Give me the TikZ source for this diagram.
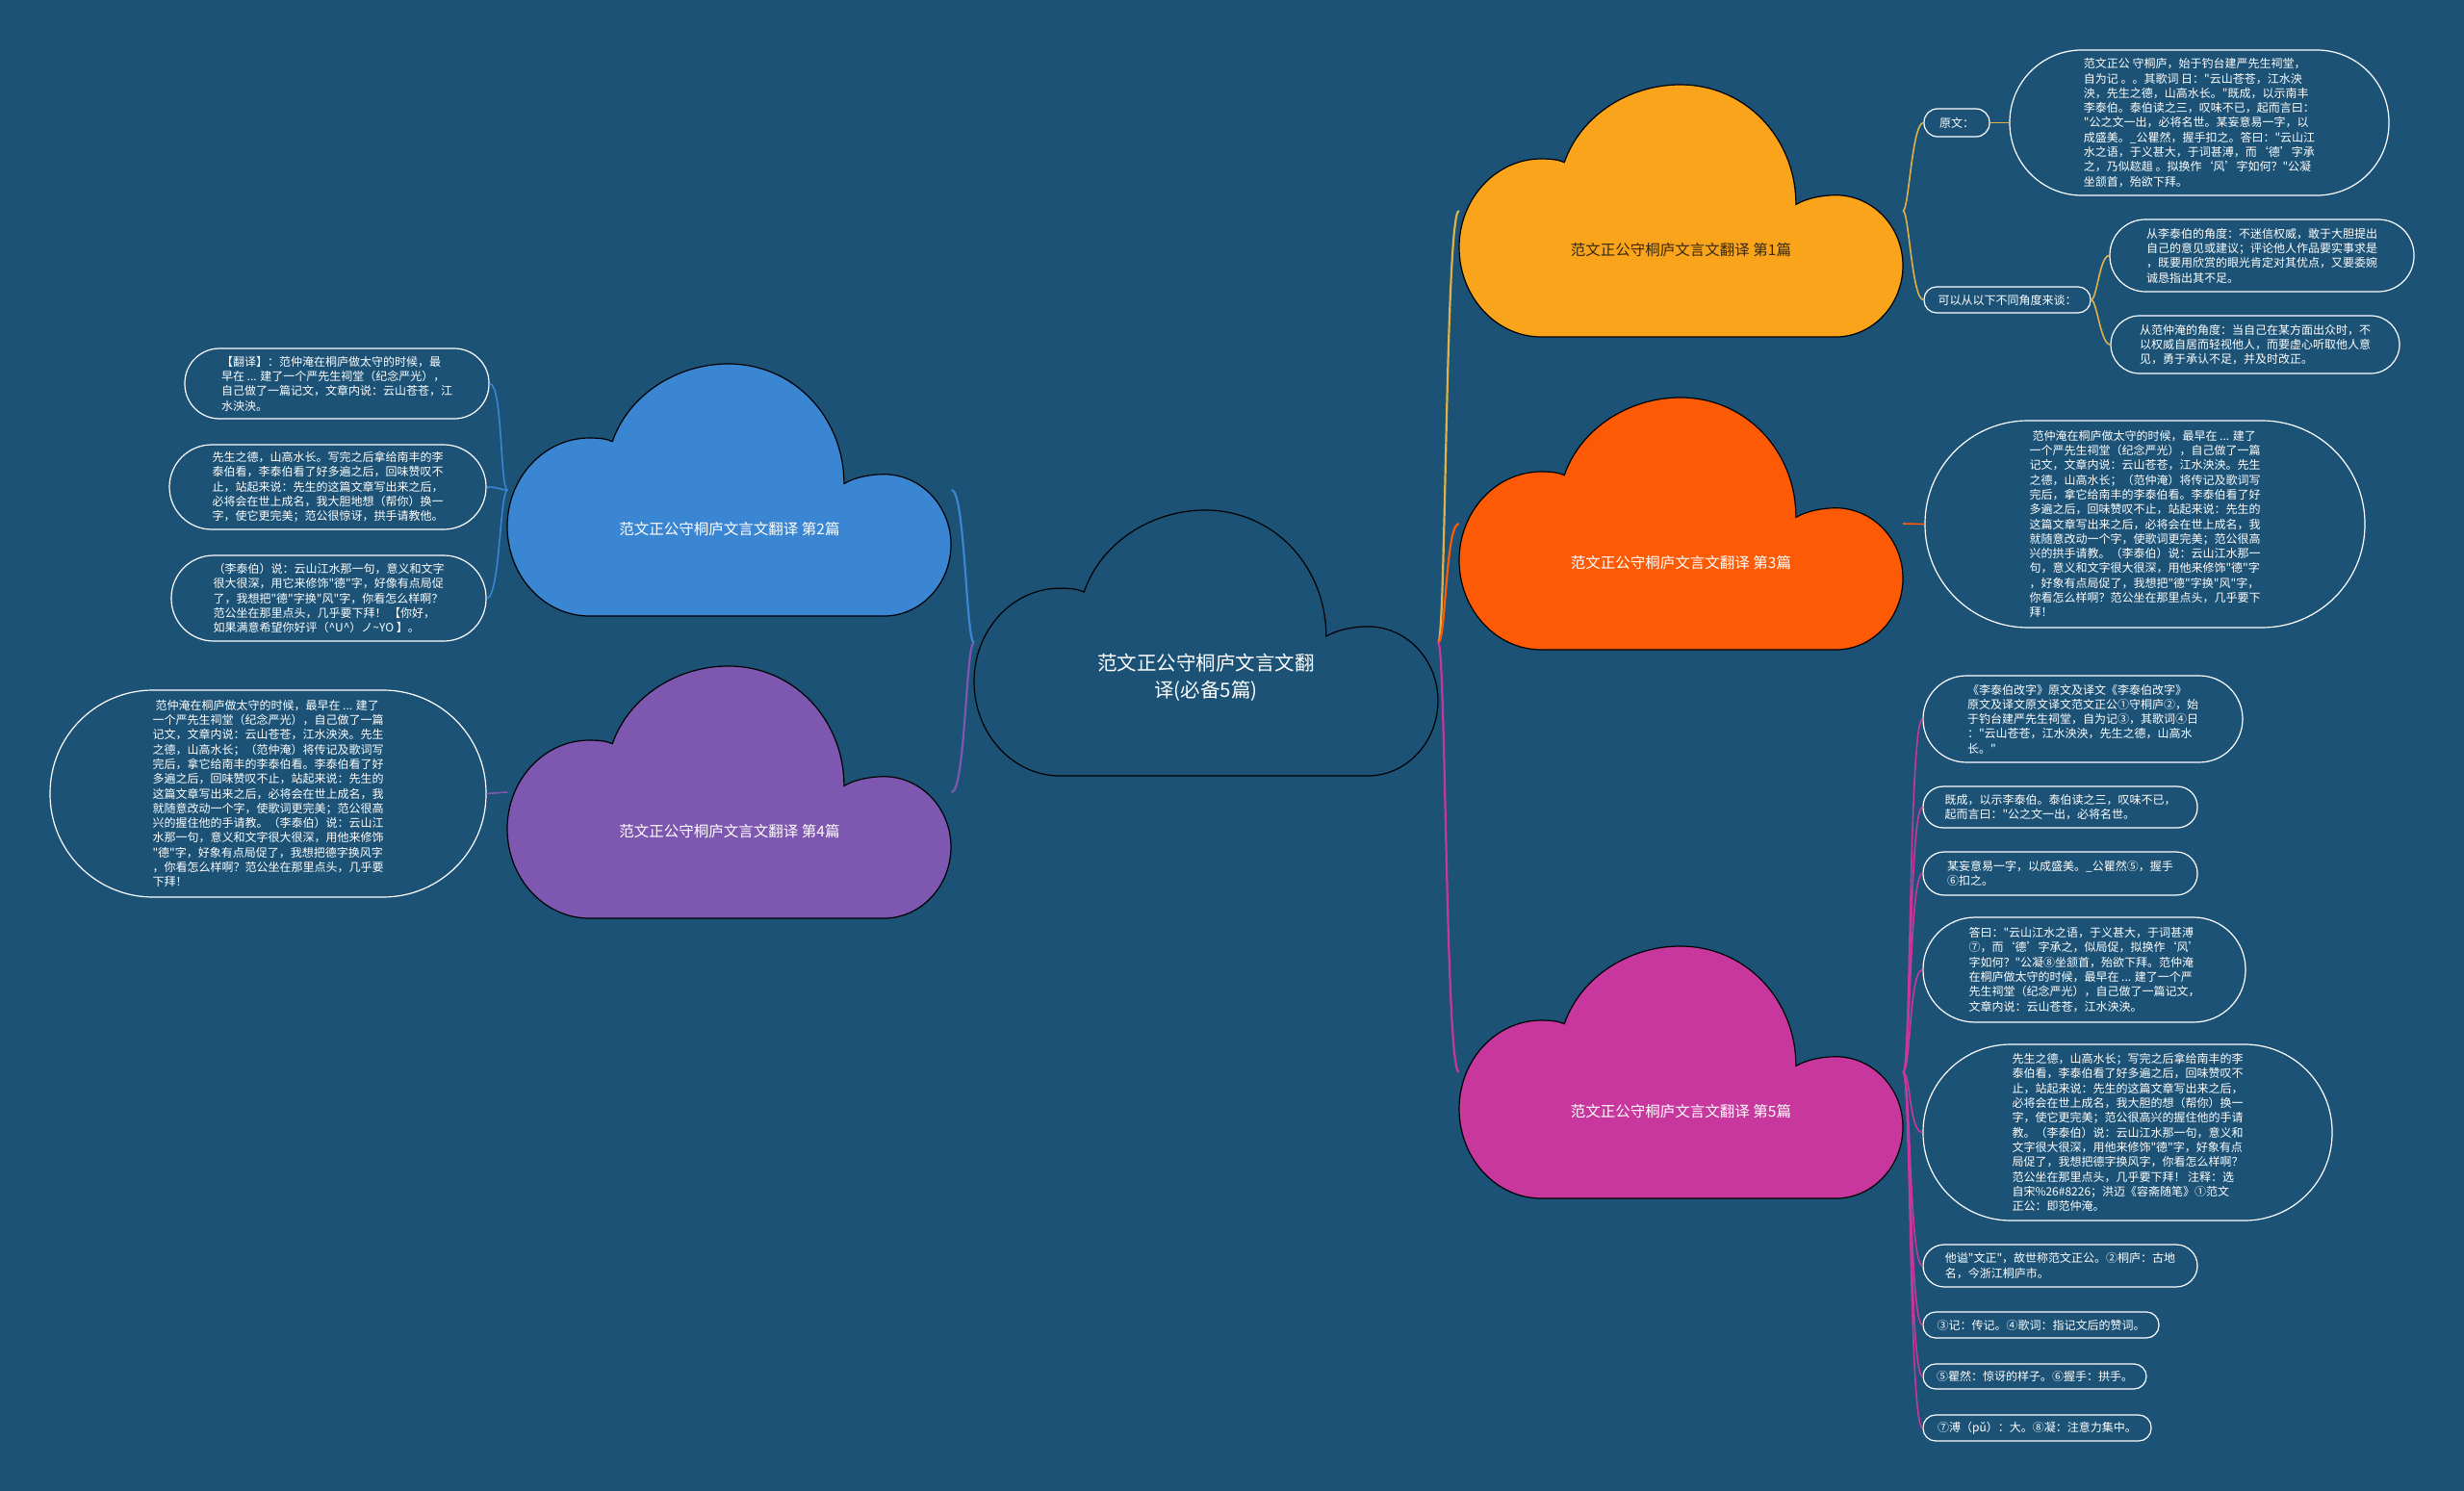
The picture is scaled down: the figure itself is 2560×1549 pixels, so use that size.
\documentclass[tikz,border=0pt]{standalone}
\usepackage{fontspec}
\setmainfont{Noto Sans CJK SC}[Ligatures=TeXOff]
\definecolor{bg}{RGB}{27,82,118}
\definecolor{cyel}{RGB}{250,164,28}
\definecolor{cora}{RGB}{252,90,5}
\definecolor{cmag}{RGB}{199,55,157}
\definecolor{cblu}{RGB}{58,134,210}
\definecolor{cpur}{RGB}{126,88,176}
\definecolor{lyel}{RGB}{222,178,72}
\definecolor{ctxtdark}{RGB}{55,40,15}
\newcommand\drawcloud[6]{%
\begin{scope}[shift={(#1,#2)},xscale=#3,yscale=#4]
\filldraw[fill=#5,draw=#6,line width=1.2pt] (0.185,1) .. controls (0.083,1) and (0,0.841) .. (0,0.645) .. controls (0,0.451) and (0.083,0.294) .. (0.185,0.294) .. controls (0.207,0.294) and (0.224,0.297) .. (0.237,0.308) .. controls (0.274,0.12) and (0.384,0) .. (0.498,0) .. controls (0.647,0) and (0.759,0.214) .. (0.759,0.475) .. controls (0.784,0.449) and (0.82,0.438) .. (0.849,0.438) .. controls (0.932,0.438) and (1,0.563) .. (1,0.717) .. controls (1,0.873) and (0.932,1) .. (0.849,1) -- cycle;
\end{scope}}
\begin{document}
\begin{tikzpicture}[x=1pt,y=-1pt,
  bubble/.style={draw=white, line width=1.2pt, text=white, align=left, inner sep=0pt, font=\fontsize{12pt}{15.3pt}\selectfont},
  cbox/.style={inner sep=0pt, minimum width=461pt, minimum height=262pt},
  ctext/.style={text=white, font=\fontsize{15.5pt}{19pt}\selectfont, inner sep=0pt},
  mainconn/.style={line width=2.2pt},
  subconn/.style={line width=1.6pt}]
\fill[bg] (0,0) rectangle (2560,1549);
\useasboundingbox (0,0) rectangle (2560,1549);
% cloud nodes (frames)
\node[inner sep=0pt, minimum width=482pt, minimum height=276pt] (cen) at (1253,667.5) {};
\node[cbox] (c1) at (1746.5,219) {};
\node[cbox] (c3) at (1746.5,544) {};
\node[cbox] (c5) at (1746.5,1114) {};
\node[cbox] (c2) at (758,509) {};
\node[cbox] (c4) at (758,823) {};
% bubbles branch 1
\node[bubble, minimum width=68pt, minimum height=29pt, rounded corners=14pt] (yw) at (2033,127.5) {原文：};
\node[bubble, minimum width=394pt, minimum height=151pt, rounded corners=75pt] (ywt) at (2285,127.5) {范文正公 守桐庐，始于钓台建严先生祠堂，\\自为记 。。其歌词 日："云山苍苍，江水泱\\泱，先生之德，山高水长。"既成，以示南丰\\李泰伯。泰伯读之三，叹味不已，起而言曰：\\"公之文一出，必将名世。某妄意易一字，以\\成盛美。\_公瞿然，握手扣之。答曰："云山江\\水之语，于义甚大，于词甚溥，而‘德’字承\\之，乃似趑趄 。拟换作‘风’字如何？"公凝\\坐颔首，殆欲下拜。};
\node[bubble, minimum width=173pt, minimum height=27pt, rounded corners=13pt] (ky) at (2085.5,311.5) {可以从以下不同角度来谈：};
\node[bubble, minimum width=316pt, minimum height=75pt, rounded corners=37pt] (ka) at (2350,265.5) {从李泰伯的角度：不迷信权威，敢于大胆提出\\自己的意见或建议；评论他人作品要实事求是\\，既要用欣赏的眼光肯定对其优点，又要委婉\\诚恳指出其不足。};
\node[bubble, minimum width=300pt, minimum height=60pt, rounded corners=30pt] (kb) at (2343,358) {从范仲淹的角度：当自己在某方面出众时，不\\以权威自居而轻视他人，而要虚心听取他人意\\见，勇于承认不足，并及时改正。};
% branch 3
\node[bubble, minimum width=457pt, minimum height=215pt, rounded corners=107pt] (t3) at (2228.5,544.5) {\hspace*{3pt}范仲淹在桐庐做太守的时候，最早在 ... 建了\\一个严先生祠堂（纪念严光），自己做了一篇\\记文，文章内说：云山苍苍，江水泱泱。先生\\之德，山高水长；（范仲淹）将传记及歌词写\\完后，拿它给南丰的李泰伯看。李泰伯看了好\\多遍之后，回味赞叹不止，站起来说：先生的\\这篇文章写出来之后，必将会在世上成名，我\\就随意改动一个字，使歌词更完美；范公很高\\兴的拱手请教。（李泰伯）说：云山江水那一\\句，意义和文字很大很深，用他来修饰"德"字\\，好象有点局促了，我想把"德"字换"风"字，\\你看怎么样啊？范公坐在那里点头，几乎要下\\拜！};
% branch 5
\node[bubble, minimum width=332pt, minimum height=90pt, rounded corners=45pt] (f1) at (2164,747) {《李泰伯改字》原文及译文《李泰伯改字》\\原文及译文原文译文范文正公①守桐庐②，始\\于钓台建严先生祠堂，自为记③，其歌词④日\\："云山苍苍，江水泱泱，先生之德，山高水\\长。"};
\node[bubble, minimum width=285pt, minimum height=43pt, rounded corners=21pt] (f2) at (2140.5,838.5) {既成，以示李泰伯。泰伯读之三，叹味不已，\\起而言曰："公之文一出，必将名世。};
\node[bubble, minimum width=285pt, minimum height=45pt, rounded corners=22pt] (f3) at (2140.5,907.5) {某妄意易一字，以成盛美。\_公瞿然⑤，握手\\⑥扣之。};
\node[bubble, minimum width=335pt, minimum height=109pt, rounded corners=54pt] (f4) at (2165.5,1007.5) {答曰："云山江水之语，于义甚大，于词甚溥\\⑦，而‘德’字承之，似局促，拟换作‘风’\\字如何？"公凝⑧坐颔首，殆欲下拜。范仲淹\\在桐庐做太守的时候，最早在 ... 建了一个严\\先生祠堂（纪念严光），自己做了一篇记文，\\文章内说：云山苍苍，江水泱泱。};
\node[bubble, minimum width=425pt, minimum height=183pt, rounded corners=91pt] (f5) at (2210.5,1176.5) {先生之德，山高水长；写完之后拿给南丰的李\\泰伯看，李泰伯看了好多遍之后，回味赞叹不\\止，站起来说：先生的这篇文章写出来之后，\\必将会在世上成名，我大胆的想（帮你）换一\\字，使它更完美；范公很高兴的握住他的手请\\教。（李泰伯）说：云山江水那一句，意义和\\文字很大很深，用他来修饰"德"字，好象有点\\局促了，我想把德字换风字，你看怎么样啊？\\范公坐在那里点头，几乎要下拜！ 注释：选\\自宋\%26\#8226；洪迈《容斋随笔》①范文\\正公：即范仲淹。};
\node[bubble, minimum width=285pt, minimum height=44pt, rounded corners=22pt] (f6) at (2140.5,1315) {他谥"文正"，故世称范文正公。②桐庐：古地\\名，今浙江桐庐市。};
\node[bubble, minimum width=245pt, minimum height=27pt, rounded corners=13pt] (f7) at (2120.5,1376.5) {③记：传记。④歌词：指记文后的赞词。};
\node[bubble, minimum width=232pt, minimum height=26pt, rounded corners=13pt] (f8) at (2114,1430) {⑤瞿然：惊讶的样子。⑥握手：拱手。};
\node[bubble, minimum width=237pt, minimum height=27pt, rounded corners=13pt] (f9) at (2116.5,1483.5) {⑦溥（pǔ）：大。⑧凝：注意力集中。};
% branch 2
\node[bubble, minimum width=316pt, minimum height=73pt, rounded corners=36pt] (l1) at (350,398.5) {【翻译】：范仲淹在桐庐做太守的时候，最\\早在 ... 建了一个严先生祠堂（纪念严光），\\自己做了一篇记文，文章内说：云山苍苍，江\\水泱泱。};
\node[bubble, minimum width=329pt, minimum height=88pt, rounded corners=44pt] (l2) at (340.5,506) {先生之德，山高水长。写完之后拿给南丰的李\\泰伯看，李泰伯看了好多遍之后，回味赞叹不\\止，站起来说：先生的这篇文章写出来之后，\\必将会在世上成名，我大胆地想（帮你）换一\\字，使它更完美；范公很惊讶，拱手请教他。};
\node[bubble, minimum width=327pt, minimum height=89pt, rounded corners=44pt] (l3) at (341.5,621.5) {（李泰伯）说：云山江水那一句，意义和文字\\很大很深，用它来修饰"德"字，好像有点局促\\了，我想把"德"字换"风"字，你看怎么样啊？\\范公坐在那里点头，几乎要下拜！ 【你好，\\如果满意希望你好评（\textasciicircum U\textasciicircum）ノ\textasciitilde{}YO 】。};
% branch 4
\node[bubble, minimum width=453pt, minimum height=215pt, rounded corners=107pt] (l4) at (278.5,824.5) {\hspace*{3pt}范仲淹在桐庐做太守的时候，最早在 ... 建了\\一个严先生祠堂（纪念严光），自己做了一篇\\记文，文章内说：云山苍苍，江水泱泱。先生\\之德，山高水长；（范仲淹）将传记及歌词写\\完后，拿它给南丰的李泰伯看。李泰伯看了好\\多遍之后，回味赞叹不止，站起来说：先生的\\这篇文章写出来之后，必将会在世上成名，我\\就随意改动一个字，使歌词更完美；范公很高\\兴的握住他的手请教。（李泰伯）说：云山江\\水那一句，意义和文字很大很深，用他来修饰\\"德"字，好象有点局促了，我想把德字换风字\\，你看怎么样啊？范公坐在那里点头，几乎要\\下拜！};
% connectors
\draw[mainconn, lyel] (cen.east) .. controls +(8,0) and +(-14,0) .. (c1.west);
\draw[mainconn, cora] (cen.east) .. controls +(8,0) and +(-14,0) .. (c3.west);
\draw[mainconn, cmag] (cen.east) .. controls +(8,0) and +(-14,0) .. (c5.west);
\draw[mainconn, cblu] (cen.west) .. controls +(-8,0) and +(14,0) .. (c2.east);
\draw[mainconn, cpur] (cen.west) .. controls +(-8,0) and +(14,0) .. (c4.east);
\draw[subconn, lyel] (c1.east) .. controls +(6,0) and +(-12,0) .. (yw.west);
\draw[subconn, lyel] (c1.east) .. controls +(6,0) and +(-12,0) .. (ky.west);
\draw[subconn, lyel] (yw.east) -- (ywt.west);
\draw[subconn, lyel] (ky.east) .. controls +(6,0) and +(-10,0) .. (ka.west);
\draw[subconn, lyel] (ky.east) .. controls +(6,0) and +(-10,0) .. (kb.west);
\draw[subconn, cora] (c3.east) -- (t3.west);
\foreach \n in {f1,f2,f3,f4,f5,f6,f7,f8,f9}
  \draw[subconn, cmag] (c5.east) .. controls +(8,0) and +(-14,0) .. (\n.west);
\foreach \n in {l1,l2,l3}
  \draw[subconn, cblu] (c2.west) .. controls +(-8,0) and +(14,0) .. (\n.east);
\draw[subconn, cpur] (c4.west) -- (l4.east);
% cloud shapes
\drawcloud{1012}{530}{482}{276}{bg}{black}
\drawcloud{1516}{88}{461}{262}{cyel}{black}
\drawcloud{1516}{413}{461}{262}{cora}{black}
\drawcloud{1516}{983}{461}{262}{cmag}{black}
\drawcloud{527}{378}{461}{262}{cblu}{black}
\drawcloud{527}{692}{461}{262}{cpur}{black}
% cloud labels
\node[text=white, align=center, inner sep=0pt, font=\fontsize{20.5pt}{28pt}\selectfont] (cenl) at (1253,704) {范文正公守桐庐文言文翻\\译(必备5篇)};
\node[ctext, text=ctxtdark] (c1l) at (1746.5,260) {范文正公守桐庐文言文翻译 第1篇};
\node[ctext] (c3l) at (1746.5,585) {范文正公守桐庐文言文翻译 第3篇};
\node[ctext] (c5l) at (1746.5,1155) {范文正公守桐庐文言文翻译 第5篇};
\node[ctext] (c2l) at (758,550) {范文正公守桐庐文言文翻译 第2篇};
\node[ctext] (c4l) at (758,864) {范文正公守桐庐文言文翻译 第4篇};
\end{tikzpicture}
\end{document}
